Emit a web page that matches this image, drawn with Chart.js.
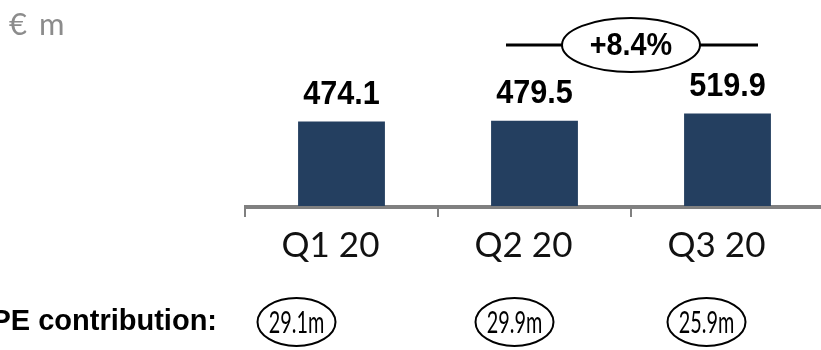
<!DOCTYPE html>
<html>
<head>
<meta charset="utf-8">
<script src="https://cdn.jsdelivr.net/npm/chart.js@4/dist/chart.umd.min.js"></script>
<style>
  html, body { margin: 0; padding: 0; background: #fff; overflow: hidden; }
  #wrap { width: 830px; height: 350px; }
</style>
</head>
<body>
<div id="wrap"><canvas id="grafico" width="830" height="350"></canvas></div>
<script>
// --- data ---
const quarters = ['Q1 20', 'Q2 20', 'Q3 20'];
const revenue = [474.1, 479.5, 519.9];
const peContribution = ['29.1m', '29.9m', '25.9m'];
const growthLabel = '+8.4%';
const unitLabel = '€ m';

const thinFont = "'Lato', 'Noto Sans', sans-serif";
const boldFont = "'Liberation Sans', Arial, sans-serif";

// text squeezed sideways, to get close to the narrow font of the original
function narrowText(ctx, text, x, y, sx) {
  ctx.save();
  ctx.translate(x, y);
  ctx.scale(sx, 1);
  ctx.fillText(text, 0, 0);
  ctx.restore();
}

// value labels, growth bubble, PE row, axis extension
const extras = {
  id: 'extras',
  afterDatasetsDraw(chart) {
    const ctx = chart.ctx;
    const x = chart.scales.x;
    const meta = chart.getDatasetMeta(0);
    ctx.save();

    // axis line runs on to the right edge
    ctx.strokeStyle = '#808080';
    ctx.lineWidth = 3;
    ctx.beginPath();
    ctx.moveTo(chart.chartArea.left, chart.chartArea.bottom + 1.5);
    ctx.lineTo(chart.width, chart.chartArea.bottom + 1.5);
    ctx.stroke();

    // values on bars
    ctx.fillStyle = '#000';
    ctx.font = 'bold 34px ' + boldFont;
    ctx.textAlign = 'center';
    ctx.textBaseline = 'bottom';
    meta.data.forEach((bar, i) => {
      narrowText(ctx, revenue[i].toFixed(1), bar.x, bar.y - 10, 0.9);
    });

    // growth bubble between Q2 and Q3
    const gx = (x.getPixelForValue(1) + x.getPixelForValue(2)) / 2;
    const gy = 45;
    ctx.strokeStyle = '#000';
    ctx.lineWidth = 3;
    ctx.beginPath();
    ctx.moveTo(gx - 125, gy); ctx.lineTo(gx - 68, gy);
    ctx.moveTo(gx + 68, gy); ctx.lineTo(gx + 127, gy);
    ctx.stroke();
    ctx.lineWidth = 2;
    ctx.beginPath();
    ctx.ellipse(gx, gy, 69, 27, 0, 0, Math.PI * 2);
    ctx.stroke();
    ctx.font = 'bold 32px ' + boldFont;
    ctx.textBaseline = 'middle';
    narrowText(ctx, growthLabel, gx, gy + 1, 0.9);

    // unit
    ctx.fillStyle = '#8c8c8c';
    ctx.font = '31px ' + thinFont;
    ctx.textAlign = 'left';
    ctx.textBaseline = 'alphabetic';
    ctx.letterSpacing = '2px';
    ctx.fillText(unitLabel, 9, 35);
    ctx.letterSpacing = '0px';

    // PE contribution row
    const py = 322;
    ctx.fillStyle = '#000';
    ctx.font = 'bold 29px ' + boldFont;
    ctx.textAlign = 'right';
    ctx.textBaseline = 'middle';
    ctx.fillText('PE contribution:', 217, py);
    const shift = [-45, -20, -21];
    ctx.font = '31px ' + thinFont;
    ctx.textAlign = 'center';
    ctx.lineWidth = 2;
    peContribution.forEach((t, i) => {
      const cx = x.getPixelForValue(i) + shift[i];
      ctx.beginPath();
      ctx.ellipse(cx, py, 39, 24, 0, 0, Math.PI * 2);
      ctx.stroke();
      narrowText(ctx, t, cx, py + 1, 0.64);
    });
    ctx.restore();
  }
};

new Chart(document.getElementById('grafico').getContext('2d'), {
  type: 'bar',
  data: {
    labels: quarters,
    datasets: [{
      data: revenue,
      backgroundColor: '#243f60',
      categoryPercentage: 1,
      barPercentage: 0.45
    }]
  },
  options: {
    responsive: false,
    animation: false,
    layout: { padding: { left: 245, right: 6, top: 0, bottom: 75 } },
    plugins: { legend: { display: false }, tooltip: { enabled: false } },
    scales: {
      x: {
        offset: true,
        border: { display: true, color: '#808080', width: 3 },
        grid: {
          offset: true,
          drawOnChartArea: false,
          drawTicks: true,
          tickLength: 11,
          lineWidth: 2,
          color: c => (c.index >= quarters.length ? 'rgba(0,0,0,0)' : '#808080')
        },
        ticks: { color: '#111', padding: 8, labelOffset: -11, font: { family: thinFont, size: 35 } }
      },
      y: {
        display: false,
        min: 0,
        max: 1157
      }
    }
  },
  plugins: [extras]
});
</script>
</body>
</html>
